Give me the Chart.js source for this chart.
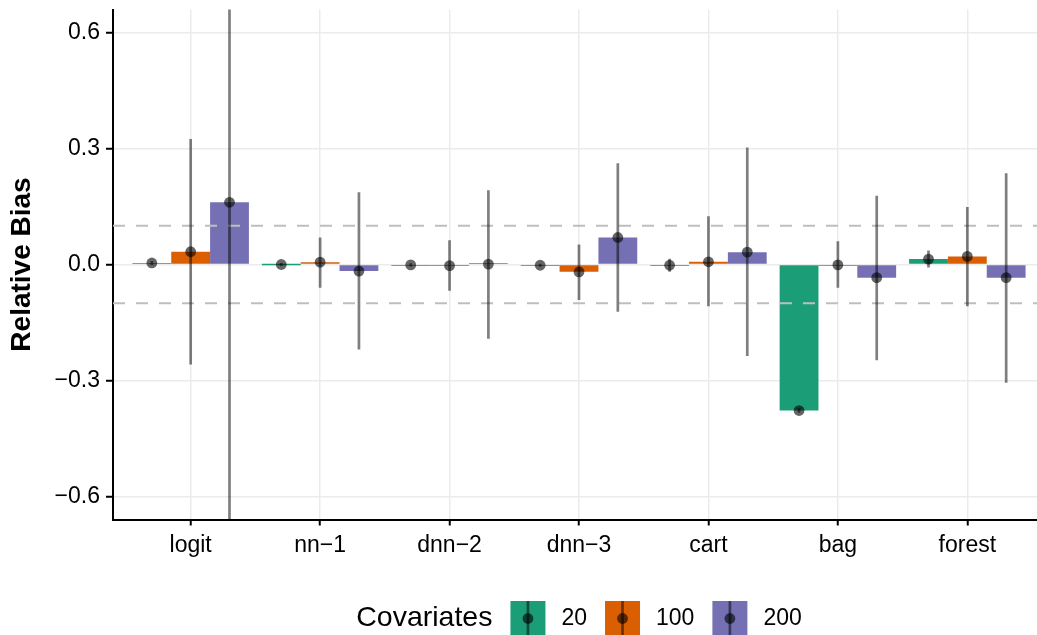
<!DOCTYPE html>
<html>
<head>
<meta charset="utf-8">
<script src="https://cdn.jsdelivr.net/npm/chart.js@4/dist/chart.umd.min.js"></script>
<style>
  html, body { margin: 0; padding: 0; background: #fff; overflow: hidden; }
  canvas { display: block; }
</style>
</head>
<body>
<canvas id="biasChart" width="1045" height="635"></canvas>
<script>
const categories = ['logit', 'nn−1', 'dnn−2', 'dnn−3', 'cart', 'bag', 'forest'];
const groups = ['20', '100', '200'];
const colors = ['#1b9e77', '#d95f02', '#7570b3'];

// mean relative bias per method
const bias20  = [0.004, 0.000, -0.001, -0.002, -0.002, -0.378, 0.014];
const bias100 = [0.033, 0.006, -0.003, -0.019, 0.007, -0.001, 0.021];
const bias200 = [0.161, -0.017, 0.001, 0.070, 0.032, -0.034, -0.034];

// interval ends
const low20   = [-0.001, -0.004, -0.005, -0.006, -0.019, -0.384, -0.008];
const high20  = [0.009, 0.004, 0.003, 0.002, 0.015, -0.372, 0.036];
const low100  = [-0.259, -0.060, -0.068, -0.092, -0.108, -0.060, -0.108];
const high100 = [0.325, 0.070, 0.063, 0.052, 0.125, 0.060, 0.149];
const low200  = [-0.69, -0.220, -0.192, -0.122, -0.237, -0.248, -0.306];
const high200 = [1.01, 0.187, 0.192, 0.262, 0.303, 0.178, 0.236];

const yTicks = [-0.6, -0.3, 0, 0.3, 0.6];
const refLines = [-0.1, 0.1];

const FONT = "'Liberation Sans', Arial, Helvetica, sans-serif";

const toPoints = arr => arr.map((v, i) => ({ x: i, y: v }));

const errorBarPlugin = {
  id: 'errorBars',
  afterDatasetsDraw(chart) {
    const { ctx, chartArea, scales: { y } } = chart;
    ctx.save();
    ctx.beginPath();
    ctx.rect(chartArea.left, chartArea.top, chartArea.right - chartArea.left, chartArea.bottom - chartArea.top);
    ctx.clip();

    // dashed reference lines
    ctx.strokeStyle = '#bebebe';
    ctx.lineWidth = 2;
    ctx.setLineDash([12, 11]);
    refLines.forEach(v => {
      const py = y.getPixelForValue(v);
      ctx.beginPath();
      ctx.moveTo(chartArea.left, py);
      ctx.lineTo(chartArea.right, py);
      ctx.stroke();
    });
    ctx.setLineDash([]);

    chart.data.datasets.forEach((ds, i) => {
      const meta = chart.getDatasetMeta(i);
      meta.data.forEach((bar, j) => {
        const yLo = y.getPixelForValue(ds.lows[j]);
        const yHi = y.getPixelForValue(ds.highs[j]);
        ctx.strokeStyle = 'rgba(0,0,0,0.5)';
        ctx.lineWidth = 2.7;
        ctx.beginPath();
        ctx.moveTo(bar.x, yLo);
        ctx.lineTo(bar.x, yHi);
        ctx.stroke();
        ctx.fillStyle = 'rgba(0,0,0,0.6)';
        ctx.beginPath();
        ctx.arc(bar.x, y.getPixelForValue(ds.data[j].y), 5.4, 0, Math.PI * 2);
        ctx.fill();
      });
    });
    ctx.restore();
  }
};

const legendPlugin = {
  id: 'covLegend',
  afterDraw(chart) {
    const { ctx, chartArea } = chart;
    const key = 35;
    const top = 601;
    const cy = top + key / 2;
    ctx.save();
    ctx.textBaseline = 'middle';
    ctx.fillStyle = '#000';
    ctx.font = `28.5px ${FONT}`;
    const titleW = ctx.measureText('Covariates').width;
    ctx.font = `23px ${FONT}`;
    const labelW = groups.map(g => ctx.measureText(g).width);
    const total = titleW + labelW.reduce((s, w) => s + w + 18 + key + 16, 0);
    let x = (chartArea.left + chartArea.right) / 2 - total / 2;

    ctx.font = `28.5px ${FONT}`;
    ctx.fillText('Covariates', x, cy);
    x += titleW;

    groups.forEach((g, i) => {
      x += 18;
      ctx.fillStyle = colors[i];
      ctx.fillRect(x, top, key, key);
      ctx.strokeStyle = 'rgba(0,0,0,0.5)';
      ctx.lineWidth = 2.7;
      ctx.beginPath();
      ctx.moveTo(x + key / 2, top);
      ctx.lineTo(x + key / 2, top + key);
      ctx.stroke();
      ctx.fillStyle = 'rgba(0,0,0,0.6)';
      ctx.beginPath();
      ctx.arc(x + key / 2, cy, 5.4, 0, Math.PI * 2);
      ctx.fill();
      x += key + 16;
      ctx.fillStyle = '#000';
      ctx.font = `23px ${FONT}`;
      ctx.fillText(g, x, cy);
      x += labelW[i];
    });
    ctx.restore();
  }
};

const biasChart = new Chart(document.getElementById('biasChart'), {
  type: 'bar',
  data: {
    datasets: [
      { label: groups[0], data: toPoints(bias20), lows: low20, highs: high20, backgroundColor: colors[0] },
      { label: groups[1], data: toPoints(bias100), lows: low100, highs: high100, backgroundColor: colors[1] },
      { label: groups[2], data: toPoints(bias200), lows: low200, highs: high200, backgroundColor: colors[2] }
    ]
  },
  options: {
    responsive: false,
    animation: false,
    devicePixelRatio: 1,
    layout: {
      padding: { top: 9.5, bottom: 70.5, left: 0, right: 0 }
    },
    datasets: {
      bar: {
        categoryPercentage: 0.9,
        barPercentage: 1.0,
        borderWidth: 0,
        minBarLength: 1.5
      }
    },
    plugins: {
      legend: { display: false },
      tooltip: { enabled: false }
    },
    scales: {
      x: {
        type: 'linear',
        min: -0.6,
        max: 6.6,
        bounds: 'data',
        offset: false,
        afterBuildTicks: scale => {
          scale.ticks = categories.map((c, i) => ({ value: i }));
        },
        afterFit: scale => {
          scale.height = 45;
          scale.paddingLeft = 0;
          scale.paddingRight = 0;
        },
        ticks: {
          autoSkip: false,
          maxRotation: 0,
          padding: 6,
          color: '#000',
          font: { family: FONT, size: 23 },
          callback: v => categories[v]
        },
        grid: {
          offset: false,
          color: '#ebebeb',
          lineWidth: 1.5,
          tickColor: '#000',
          tickWidth: 2,
          tickLength: 6
        },
        border: { color: '#000', width: 2 }
      },
      y: {
        min: -0.66,
        max: 0.66,
        bounds: 'data',
        afterBuildTicks: scale => {
          scale.ticks = yTicks.map(v => ({ value: v }));
        },
        afterFit: scale => {
          scale.width = 113;
          scale.paddingTop = 0;
          scale.paddingBottom = 0;
        },
        ticks: {
          padding: 6,
          color: '#000',
          font: { family: FONT, size: 23 },
          callback: v => v.toFixed(1).replace('-', '−')
        },
        grid: {
          color: '#ebebeb',
          lineWidth: 1.5,
          tickColor: '#000',
          tickWidth: 2,
          tickLength: 7
        },
        border: { color: '#000', width: 2 },
        title: {
          display: true,
          text: 'Relative Bias',
          color: '#000',
          padding: { top: 5, bottom: 0 },
          font: { family: FONT, size: 28, weight: 'bold' }
        }
      }
    }
  },
  plugins: [errorBarPlugin, legendPlugin]
});
</script>
</body>
</html>
